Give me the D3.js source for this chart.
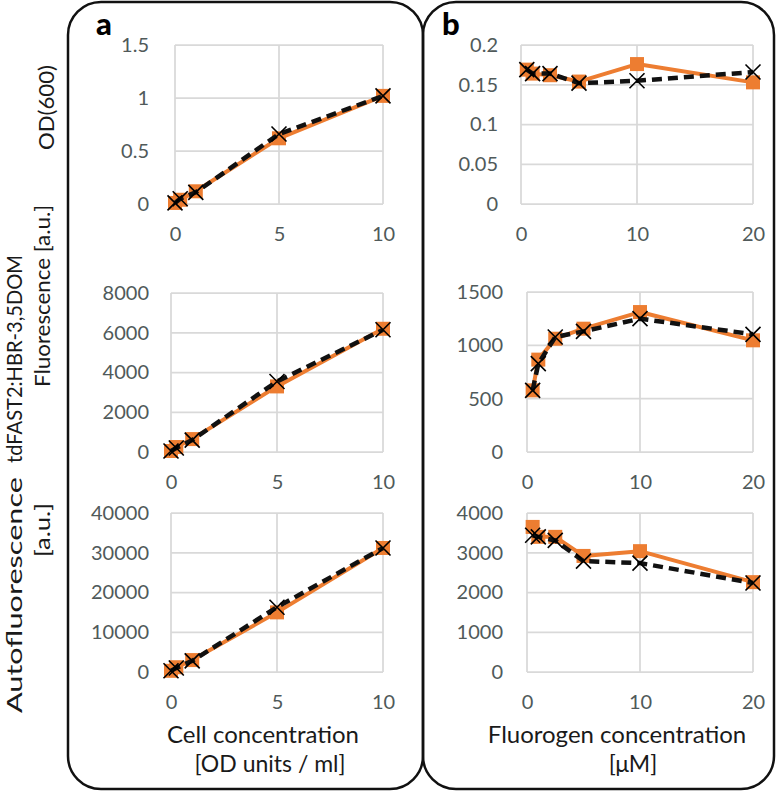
<!DOCTYPE html>
<html><head><meta charset="utf-8">
<script src="https://cdn.jsdelivr.net/npm/d3@7"></script>
<style>body{margin:0;background:#fff}svg{display:block}</style>
</head><body>
<svg id="c" width="780" height="794"></svg>
<script>
// ---- data ----
const cellConc = [0, 0.25, 1, 5, 10];
const fluorogenConc = [0.5, 1, 2.5, 5, 10, 20];

const odA_orange = [0.01, 0.04, 0.12, 0.62, 1.02];
const odA_black  = [0.01, 0.05, 0.11, 0.66, 1.02];
const fluoA_orange = [50, 250, 650, 3300, 6200];
const fluoA_black  = [50, 200, 600, 3550, 6150];
const autoA_orange = [300, 1200, 3000, 15000, 31200];
const autoA_black  = [300, 1000, 2800, 16300, 31200];

const odB_orange = [0.169, 0.164, 0.162, 0.154, 0.176, 0.153];
const odB_black  = [0.169, 0.164, 0.164, 0.152, 0.155, 0.166];
const fluoB_orange = [578, 866, 1062, 1156, 1312, 1047];
const fluoB_black  = [578, 828, 1078, 1131, 1250, 1103];
const autoB_orange = [3650, 3400, 3400, 2920, 3040, 2260];
const autoB_black  = [3440, 3400, 3310, 2790, 2740, 2240];

const xTicksA = [0, 5, 10];
const xTicksB = [0, 10, 20];
const odTicksA = [0, 0.5, 1, 1.5];
const fluoTicksA = [0, 2000, 4000, 6000, 8000];
const autoTicksA = [0, 10000, 20000, 30000, 40000];
const odTicksB = [0, 0.05, 0.1, 0.15, 0.2];
const fluoTicksB = [0, 500, 1000, 1500];
const autoTicksB = [0, 1000, 2000, 3000, 4000];

// ---- drawing ----
const svg = d3.select('#c');
const FONT = 'Lato, "Open Sans", sans-serif';
const ORANGE = '#ED7D31';
const GRID = '#d9d9d9';
const TICK = '#505a5a';

// panel borders
svg.append('rect').attr('x', 68).attr('y', 2).attr('width', 355).attr('height', 787)
  .attr('rx', 33).attr('fill', 'none').attr('stroke', '#111').attr('stroke-width', 2.5);
svg.append('rect').attr('x', 423).attr('y', 2).attr('width', 351).attr('height', 787)
  .attr('rx', 33).attr('fill', 'none').attr('stroke', '#111').attr('stroke-width', 2.5);

svg.append('text').attr('x', 96).attr('y', 35).text('a')
  .attr('font-family', FONT).attr('font-weight', 900).attr('font-size', 31).attr('fill', '#000');
svg.append('text').attr('x', 442).attr('y', 35).text('b')
  .attr('font-family', FONT).attr('font-weight', 900).attr('font-size', 31).attr('fill', '#000');

function plot(cfg) {
  const x = d3.scaleLinear().domain(cfg.xDomain).range([cfg.x0, cfg.x1]);
  const y = d3.scaleLinear().domain(cfg.yDomain).range([cfg.y1, cfg.y0]);
  const g = svg.append('g');
  // gridlines
  g.selectAll('.hg').data(cfg.yTicks).enter().append('line')
    .attr('x1', cfg.x0).attr('x2', cfg.x1).attr('y1', d => y(d)).attr('y2', d => y(d))
    .attr('stroke', GRID).attr('stroke-width', 1.75);
  g.selectAll('.vg').data(cfg.xTicks).enter().append('line')
    .attr('y1', cfg.y0).attr('y2', cfg.y1).attr('x1', d => x(d)).attr('x2', d => x(d))
    .attr('stroke', GRID).attr('stroke-width', 1.75);
  // y tick labels
  const ya = d3.axisLeft(y).tickValues(cfg.yTicks).tickSize(0).tickPadding(0).tickFormat(cfg.yFmt);
  const yg = g.append('g').attr('transform', `translate(${cfg.yLabelX},0)`).call(ya);
  yg.select('.domain').remove();
  yg.selectAll('text').attr('font-family', FONT).attr('font-size', 20).attr('fill', TICK);
  // x tick labels
  const xa = d3.axisBottom(x).tickValues(cfg.xTicks).tickSize(0).tickPadding(0).tickFormat(d3.format('d'));
  const xg = g.append('g').attr('transform', `translate(0,${cfg.y1 + 23})`).call(xa);
  xg.select('.domain').remove();
  xg.selectAll('text').attr('font-family', FONT).attr('font-size', 20).attr('fill', TICK);

  const line = d3.line().x(d => x(d[0])).y(d => y(d[1]));
  const oPts = cfg.xs.map((v, i) => [v, cfg.orange[i]]);
  const bPts = cfg.xs.map((v, i) => [v, cfg.black[i]]);
  g.append('path').datum(oPts).attr('d', line).attr('fill', 'none')
    .attr('stroke', ORANGE).attr('stroke-width', 4).attr('stroke-linejoin', 'round');
  g.selectAll('.sq').data(oPts).enter().append('rect')
    .attr('x', d => x(d[0]) - 7).attr('y', d => y(d[1]) - 7)
    .attr('width', 14).attr('height', 14).attr('fill', ORANGE);
  g.append('path').datum(bPts).attr('d', line).attr('fill', 'none')
    .attr('stroke', '#111').attr('stroke-width', 4.5).attr('stroke-dasharray', '10,6');
  const s = 7.5;
  g.selectAll('.xm').data(bPts).enter().append('path')
    .attr('d', d => {
      const cx = x(d[0]), cy = y(d[1]);
      return `M${cx - s},${cy - s}L${cx + s},${cy + s}M${cx - s},${cy + s}L${cx + s},${cy - s}`;
    })
    .attr('stroke', '#000').attr('stroke-width', 1.6).attr('fill', 'none');
}

const fmtPlain = d => String(d);

plot({xDomain: [0, 10], yDomain: [0, 1.5], x0: 175, x1: 383, y0: 45, y1: 204, yLabelX: 149,
  xTicks: xTicksA, yTicks: odTicksA, yFmt: fmtPlain, xs: cellConc, orange: odA_orange, black: odA_black});
plot({xDomain: [0, 10], yDomain: [0, 8000], x0: 171, x1: 383, y0: 293, y1: 452, yLabelX: 149,
  xTicks: xTicksA, yTicks: fluoTicksA, yFmt: fmtPlain, xs: cellConc, orange: fluoA_orange, black: fluoA_black});
plot({xDomain: [0, 10], yDomain: [0, 40000], x0: 171, x1: 383, y0: 513, y1: 672, yLabelX: 149,
  xTicks: xTicksA, yTicks: autoTicksA, yFmt: fmtPlain, xs: cellConc, orange: autoA_orange, black: autoA_black});

plot({xDomain: [0, 20], yDomain: [0, 0.2], x0: 521, x1: 753, y0: 45, y1: 204, yLabelX: 498,
  xTicks: xTicksB, yTicks: odTicksB, yFmt: fmtPlain, xs: fluorogenConc, orange: odB_orange, black: odB_black});
plot({xDomain: [0, 20], yDomain: [0, 1500], x0: 527, x1: 753, y0: 292, y1: 452, yLabelX: 503,
  xTicks: xTicksB, yTicks: fluoTicksB, yFmt: fmtPlain, xs: fluorogenConc, orange: fluoB_orange, black: fluoB_black});
plot({xDomain: [0, 20], yDomain: [0, 4000], x0: 527, x1: 753, y0: 513, y1: 672, yLabelX: 503,
  xTicks: xTicksB, yTicks: autoTicksB, yFmt: fmtPlain, xs: fluorogenConc, orange: autoB_orange, black: autoB_black});

// x titles
function hText(t, cx, cy, size) {
  svg.append('text').attr('x', cx).attr('y', cy).attr('dy', '0.35em').attr('text-anchor', 'middle')
    .attr('font-family', FONT).attr('font-size', size).attr('fill', '#1a1a1a').text(t);
}
hText('Cell concentration', 263, 735, 24);
hText('[OD units / ml]', 270, 764, 23);
hText('Fluorogen concentration', 617, 735, 24);
hText('[\u03BCM]', 633, 764, 23);

// y titles (rotated)
function vText(t, cx, yTop, yBot) {
  svg.append('text').attr('transform', `translate(${cx},${(yTop + yBot) / 2}) rotate(-90)`)
    .attr('dy', '0.35em').attr('text-anchor', 'middle')
    .attr('font-family', FONT).attr('font-size', 21).attr('fill', '#1a1a1a')
    .attr('textLength', yBot - yTop).attr('lengthAdjust', 'spacingAndGlyphs').text(t);
}
vText('OD(600)', 47, 65, 150);
vText('tdFAST2:HBR-3,5DOM', 15, 255, 463);
vText('Fluorescence [a.u.]', 43, 205, 387);
vText('Autofluorescence', 15, 477, 713);
vText('[a.u.]', 43, 503, 557);
</script>
</body></html>
